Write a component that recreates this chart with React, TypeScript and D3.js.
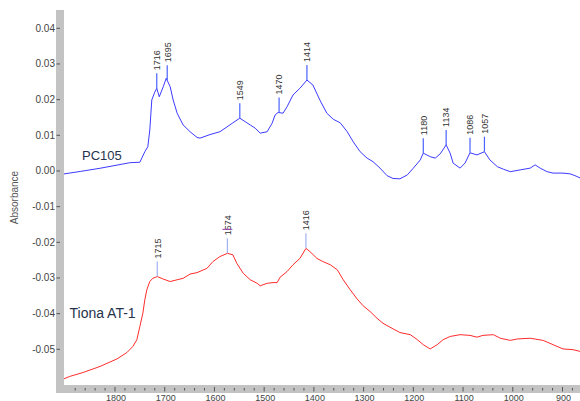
import React from 'react';
import * as d3 from 'd3';

// ---------- data ----------
const pc105Wavenumber = [1903,1870,1830,1800,1770,1750,1740,1734,1730,1726,1720,1716,1711,1703,1697,1689,1683,1675,1663,1649,1635,1629,1609,1589,1569,1563,1549,1538,1528,1518,1508,1494,1484,1478,1472,1462,1454,1442,1428,1414,1402,1388,1374,1361,1347,1333,1321,1307,1293,1281,1267,1253,1241,1227,1212,1200,1186,1180,1166,1156,1146,1134,1126,1120,1106,1096,1086,1072,1057,1046,1031,1019,1005,985,965,955,945,931,919,899,885,875,864];
const pc105Absorbance = [-0.00084,-0.00014,0.00076,0.00154,0.00232,0.00244,0.0054,0.0068,0.0115,0.0199,0.0221,0.0232,0.0208,0.0236,0.0260,0.0236,0.0199,0.0162,0.0129,0.0110,0.0094,0.0092,0.0102,0.0110,0.0129,0.0135,0.0148,0.0138,0.0129,0.0120,0.0106,0.0110,0.0134,0.0157,0.0164,0.0162,0.0180,0.0213,0.0232,0.0255,0.0241,0.0199,0.0162,0.0145,0.0135,0.0110,0.0082,0.0054,0.0036,0.0026,0.0008,-0.0013,-0.0021,-0.0022,-0.0011,0.0008,0.0031,0.0050,0.0040,0.0036,0.0048,0.0073,0.0050,0.0022,0.0008,0.0022,0.0051,0.0045,0.0054,0.0031,0.0012,0.0005,-0.0002,0.0003,0.0008,0.0017,0.0008,-0.0002,-0.0006,-0.0006,-0.0008,-0.0013,-0.0020];

const tionaWavenumber = [1903,1891,1864,1830,1796,1776,1764,1756,1750,1744,1740,1736,1730,1724,1715,1703,1689,1675,1663,1649,1635,1615,1603,1589,1574,1563,1555,1542,1528,1514,1508,1494,1482,1474,1468,1454,1442,1428,1416,1408,1394,1382,1367,1353,1341,1327,1313,1301,1287,1273,1261,1247,1227,1206,1192,1180,1166,1152,1140,1126,1106,1086,1072,1060,1039,1025,1005,991,965,939,919,899,879,864];
const tionaAbsorbance = [-0.0583,-0.0576,-0.0565,-0.0548,-0.0527,-0.0509,-0.0492,-0.0473,-0.0436,-0.0399,-0.0361,-0.0333,-0.0310,-0.0301,-0.0296,-0.0303,-0.0310,-0.0305,-0.0301,-0.0289,-0.0285,-0.0273,-0.0254,-0.0240,-0.0231,-0.0235,-0.0259,-0.0287,-0.0305,-0.0315,-0.0322,-0.0315,-0.0313,-0.0313,-0.0298,-0.0282,-0.0263,-0.0245,-0.0217,-0.0226,-0.0245,-0.0254,-0.0263,-0.0277,-0.0305,-0.0333,-0.0359,-0.0378,-0.0394,-0.0413,-0.0427,-0.0438,-0.0453,-0.0459,-0.0473,-0.0487,-0.0499,-0.0487,-0.0473,-0.0464,-0.0459,-0.0461,-0.0466,-0.0461,-0.0459,-0.0469,-0.0475,-0.0471,-0.0469,-0.0475,-0.0487,-0.0499,-0.0501,-0.0506];

const pc105Peaks = [1716, 1695, 1549, 1470, 1414, 1180, 1134, 1086, 1057];
const tionaPeaks = [1715, 1574, 1416];

const yTickValues = [0.04, 0.03, 0.02, 0.01, 0.0, -0.01, -0.02, -0.03, -0.04, -0.05];
const xTickValues = [1800, 1700, 1600, 1500, 1400, 1300, 1200, 1100, 1000, 900];

const seriesNames = ['PC105', 'Tiona AT-1'];
const yAxisTitle = 'Absorbance';

// ---------- layout ----------
const W = 580, H = 401;
const plotLeft = 64, plotRight = 580, plotTop = 10, plotBottom = 385;
const barW = 8;

const x = d3.scaleLinear().domain([1800, 900]).range([115, 562.5]);
const y = d3.scaleLinear().domain([0.04, -0.05]).range([28.3, 349.3]);

const blue = '#3b3bff';
const red = '#ff2b2b';
const gray = '#c3c3c3';
const tickCol = '#555';
const labelCol = '#444';
const font = 'Liberation Sans, Arial, sans-serif';

function pairs(ws: number[], vs: number[]): [number, number][] {
  return ws.map((w, i) => [w, vs[i]] as [number, number]);
}

export default function App() {
  const line = d3.line<[number, number]>().x(d => x(d[0])).y(d => y(d[1]));
  const blueData = pairs(pc105Wavenumber, pc105Absorbance);
  const redData = pairs(tionaWavenumber, tionaAbsorbance);
  const blueInterp = d3.scaleLinear().domain(pc105Wavenumber).range(pc105Absorbance);
  const redInterp = d3.scaleLinear().domain(tionaWavenumber).range(tionaAbsorbance);

  const minorTicks = d3.range(1880, 860, -20).filter(w => w % 100 !== 0);
  const markerLen = 15;

  const renderPeaks = (peaks: number[], interp: d3.ScaleLinear<number, number>, lineCol: string, purple: boolean) =>
    peaks.map(p => {
      const px = x(p);
      const base = y(interp(p));
      const top = base - markerLen;
      return (
        <g key={p}>
          <line x1={px} x2={px} y1={base} y2={top} stroke={lineCol} strokeWidth={1.2} />
          <text
            transform={`translate(${px + 3.3},${top - 3}) rotate(-90)`}
            fontFamily={font}
            fontSize={9}
            fill="#333"
          >
            {p}
          </text>
          {purple && p === 1574 ? (
            <line x1={px - 5} x2={px + 5} y1={top - 9} y2={top - 9} stroke="#9b3fb0" strokeWidth={1} />
          ) : null}
        </g>
      );
    });

  return (
    <svg width={W} height={H} style={{ position: 'absolute', left: 0, top: 0, background: '#fff' }}>
      <rect x={0} y={0} width={W} height={H} fill="#fff" />
      <defs>
        <clipPath id="plotclip">
          <rect x={plotLeft} y={plotTop} width={plotRight - plotLeft} height={plotBottom - plotTop} />
        </clipPath>
      </defs>

      {/* axis bars */}
      <rect x={plotLeft - barW} y={plotTop} width={barW} height={plotBottom - plotTop + barW} fill={gray} />
      <rect x={plotLeft - barW} y={plotBottom} width={plotRight - plotLeft + barW} height={barW} fill={gray} />

      {/* y ticks */}
      {yTickValues.map(v => (
        <g key={v}>
          <line x1={plotLeft - 7.5} x2={plotLeft - 4} y1={y(v)} y2={y(v)} stroke={tickCol} strokeWidth={1} />
          <text x={55} y={y(v) + 3.5} textAnchor="end" fontFamily={font} fontSize={10} fill={labelCol}>
            {v === 0 ? '0.00' : v.toFixed(2)}
          </text>
        </g>
      ))}

      {/* x ticks */}
      {minorTicks.map(w => (
        <line key={'m' + w} x1={x(w)} x2={x(w)} y1={plotBottom + 3} y2={plotBottom + 5.5} stroke={tickCol} strokeWidth={1} />
      ))}
      {xTickValues.map(w => (
        <g key={w}>
          <line x1={x(w)} x2={x(w)} y1={plotBottom + 2} y2={plotBottom + 6.5} stroke={tickCol} strokeWidth={1} />
          <text x={x(w) + 1} y={400.5} textAnchor="middle" fontFamily={font} fontSize={9} fill={labelCol}>
            {w}
          </text>
        </g>
      ))}

      {/* y axis title */}
      <text
        transform={`translate(17.5,${197.5}) rotate(-90)`}
        textAnchor="middle"
        fontFamily={font}
        fontSize={10}
        fill="#555"
      >
        {yAxisTitle}
      </text>

      <g clipPath="url(#plotclip)">
        <path d={line(blueData) || ''} fill="none" stroke={blue} strokeWidth={1} />
        <path d={line(redData) || ''} fill="none" stroke={red} strokeWidth={1} />
        {renderPeaks(pc105Peaks, blueInterp, '#4a62ff', false)}
        {renderPeaks(tionaPeaks, redInterp, '#9fb2f2', true)}
      </g>

      {/* series labels */}
      <text x={82} y={160} fontFamily={font} fontSize={13} fill="#26334d">{seriesNames[0]}</text>
      <text x={69.5} y={317.7} fontFamily={font} fontSize={14} fill="#26334d">{seriesNames[1]}</text>
    </svg>
  );
}
